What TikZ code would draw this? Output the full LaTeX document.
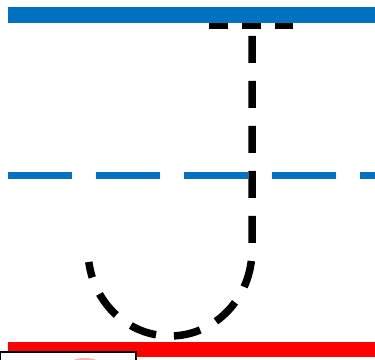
\documentclass[tikz,border=0pt]{standalone}
\definecolor{barblue}{HTML}{0070C0}
\tikzset{
  bluedash/.style={draw=barblue, line width=7.5pt, dash pattern=on 64pt off 24pt},
  capdash/.style={line width=6.5pt, dash pattern=on 19pt off 14pt},
  loopdash/.style={line width=7.5pt, dash pattern=on 27pt off 18pt}
}
\begin{document}
\begin{tikzpicture}[x=1pt,y=1pt]
\useasboundingbox (0,0) rectangle (375,359);
\clip (0,0) rectangle (375,359);

\fill[barblue] (8,336) rectangle (375,352);
\fill[red] (8,2) rectangle (375,17);

\draw[bluedash] (8,183.5) -- (375,183.5);

\coordinate (capleft) at (209,333);
\coordinate (capright) at (293,333);
\draw[capdash] (capleft) -- (capright);

\coordinate (looptop) at (252,323);
\coordinate (loopturn) at (252,109);
\draw[loopdash] (looptop) -- (loopturn)
  arc[start angle=0, end angle=-172, x radius=82, y radius=86];

\draw[fill=white, line width=1.5pt] (0,7) rectangle (136,-10);
\fill[red!30] (85,-3) ellipse [x radius=13, y radius=4];
\end{tikzpicture}
\end{document}
